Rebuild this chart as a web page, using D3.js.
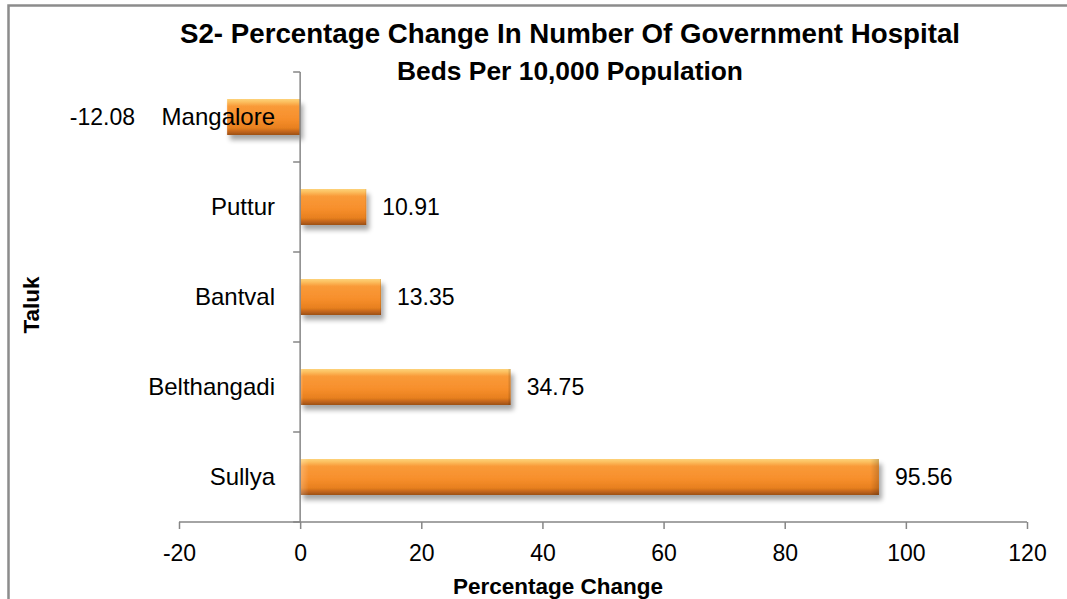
<!DOCTYPE html>
<html>
<head>
<meta charset="utf-8">
<script src="https://cdn.jsdelivr.net/npm/d3@7"></script>
<style>
  html, body { margin: 0; padding: 0; background: #fff; overflow: hidden; }
  svg { display: block; }
  text { font-family: "Liberation Sans", Arial, sans-serif; fill: #000; }
</style>
</head>
<body>
<svg id="chart" width="1067" height="599"></svg>
<script>
// Taluks, top to bottom, and their percentage change in beds per 10,000 population
const taluks = ["Mangalore", "Puttur", "Bantval", "Belthangadi", "Sullya"];
const changes = [-12.08, 10.91, 13.35, 34.75, 95.56];
const xTicks = [-20, 0, 20, 40, 60, 80, 100, 120];
const titleLines = ["S2- Percentage Change In Number Of Government Hospital", "Beds Per 10,000 Population"];

const data = taluks.map((t, i) => ({ taluk: t, value: changes[i] }));

// Plain hyphen for negative numbers
const locale = d3.formatLocale({ decimal: ".", thousands: ",", grouping: [3], currency: ["", ""], minus: "-" });
const fmtTick = locale.format("d");
const fmtVal = locale.format(".2f");

const svg = d3.select("#chart");
const axisColor = "#868686";

// Outer frame (left and top edges fall inside the canvas)
svg.append("path")
  .attr("d", "M8.5,640V5.5H1100")
  .attr("fill", "none").attr("stroke", "#8c8c8c").attr("stroke-width", 2.5);

const x = d3.scaleLinear().domain([-20, 120]).range([179, 1027]);
const y = d3.scaleBand().domain(taluks).range([72, 522]).paddingInner(0.6).paddingOuter(0.3);

// Bar fill: glossy orange with bevelled look
const defs = svg.append("defs");
const grad = defs.append("linearGradient").attr("id", "barGrad")
  .attr("x1", 0).attr("y1", 0).attr("x2", 0).attr("y2", 1);
[["0%", "#fdd27a"], ["8%", "#fcc060"], ["20%", "#f99a38"], ["55%", "#f78f2c"],
 ["80%", "#e8801f"], ["90%", "#c4661c"], ["100%", "#9c5016"]]
  .forEach(([o, c]) => grad.append("stop").attr("offset", o).attr("stop-color", c));

const edge = defs.append("linearGradient").attr("id", "edgeGrad")
  .attr("x1", 0).attr("y1", 0).attr("x2", 1).attr("y2", 0);
[["0%", "#ffffff", 0.25], ["1.5%", "#ffffff", 0], ["98.5%", "#000000", 0], ["100%", "#000000", 0.18]]
  .forEach(([o, c, a]) => edge.append("stop").attr("offset", o).attr("stop-color", c).attr("stop-opacity", a));

const shadow = defs.append("filter").attr("id", "barShadow")
  .attr("x", "-10%").attr("y", "-30%").attr("width", "130%").attr("height", "180%");
shadow.append("feGaussianBlur").attr("in", "SourceAlpha").attr("stdDeviation", 2.5).attr("result", "blur");
shadow.append("feOffset").attr("in", "blur").attr("dx", 3).attr("dy", 5).attr("result", "off");
shadow.append("feComponentTransfer").attr("in", "off").attr("result", "soft")
  .append("feFuncA").attr("type", "linear").attr("slope", 0.35);
const merge = shadow.append("feMerge");
merge.append("feMergeNode").attr("in", "soft");
merge.append("feMergeNode").attr("in", "SourceGraphic");

// Bars
const bars = svg.append("g");
bars.selectAll("rect.bar").data(data).join("rect")
  .attr("class", "bar")
  .attr("x", d => x(Math.min(0, d.value)))
  .attr("y", d => y(d.taluk))
  .attr("width", d => Math.abs(x(d.value) - x(0)))
  .attr("height", y.bandwidth())
  .attr("fill", "url(#barGrad)")
  .attr("filter", "url(#barShadow)");
bars.selectAll("rect.edge").data(data).join("rect")
  .attr("class", "edge")
  .attr("x", d => x(Math.min(0, d.value)))
  .attr("y", d => y(d.taluk))
  .attr("width", d => Math.abs(x(d.value) - x(0)))
  .attr("height", y.bandwidth())
  .attr("fill", "url(#edgeGrad)");

// Y axis (category axis at zero)
const yAxis = svg.append("g")
  .attr("transform", `translate(${x(0)},0)`)
  .call(d3.axisLeft(y).tickValues([]).tickSize(0));
yAxis.select(".domain").attr("stroke", axisColor).attr("stroke-width", 1.5)
  .attr("d", `M0,${y.range()[0]}V${y.range()[1]}`);
const bandEdges = [y.range()[0]].concat(taluks.map(t => y(t) - y.step() * y.paddingInner() / 2 + y.step()));
yAxis.selectAll("line.tk").data(bandEdges).join("line")
  .attr("class", "tk")
  .attr("x1", -7).attr("x2", 0)
  .attr("y1", d => d).attr("y2", d => d)
  .attr("stroke", axisColor).attr("stroke-width", 1.5);

// Category labels, drawn over the bars
svg.append("g").selectAll("text").data(data).join("text")
  .attr("x", 275)
  .attr("y", d => y(d.taluk) + y.bandwidth() / 2)
  .attr("dy", "0.35em")
  .attr("text-anchor", "end")
  .style("font-size", "24px")
  .text(d => d.taluk);

// X axis
const xAxis = svg.append("g")
  .attr("transform", `translate(0,${y.range()[1]})`)
  .call(d3.axisBottom(x).tickValues(xTicks).tickSize(7).tickPadding(16).tickFormat(fmtTick));
xAxis.select(".domain").attr("stroke", axisColor).attr("stroke-width", 1.5)
  .attr("d", `M${x.range()[0]},0H${x.range()[1]}`);
xAxis.selectAll(".tick line").attr("stroke", axisColor).attr("stroke-width", 1.5);
xAxis.selectAll(".tick text")
  .style("font-family", "'Liberation Sans', Arial, sans-serif")
  .style("font-size", "23px").attr("fill", "#000");

// Value labels
svg.append("g").selectAll("text").data(data).join("text")
  .attr("x", d => d.value >= 0 ? x(d.value) + 16 : x(d.value) - 92)
  .attr("y", d => y(d.taluk) + y.bandwidth() / 2)
  .attr("dy", "0.35em")
  .attr("text-anchor", d => d.value >= 0 ? "start" : "end")
  .style("font-size", "23px")
  .text(d => fmtVal(d.value));

// Title
const titleY = [43, 80];
const titleW = [780, 346];
titleLines.forEach((line, i) => {
  const t = svg.append("text")
    .attr("x", 570)
    .attr("y", titleY[i])
    .attr("text-anchor", "middle")
    .style("font-weight", "bold")
    .style("font-size", "26px")
    .text(line);
  const w = t.node().getComputedTextLength();
  t.style("font-size", (26 * titleW[i] / w).toFixed(2) + "px");
});

// Axis titles
svg.append("text")
  .attr("x", 558).attr("y", 594)
  .attr("text-anchor", "middle")
  .style("font-weight", "bold").style("font-size", "22.5px")
  .text("Percentage Change");

svg.append("text")
  .attr("transform", "translate(39,305) rotate(-90)")
  .attr("text-anchor", "middle")
  .style("font-weight", "bold").style("font-size", "22.5px")
  .text("Taluk");
</script>
</body>
</html>
